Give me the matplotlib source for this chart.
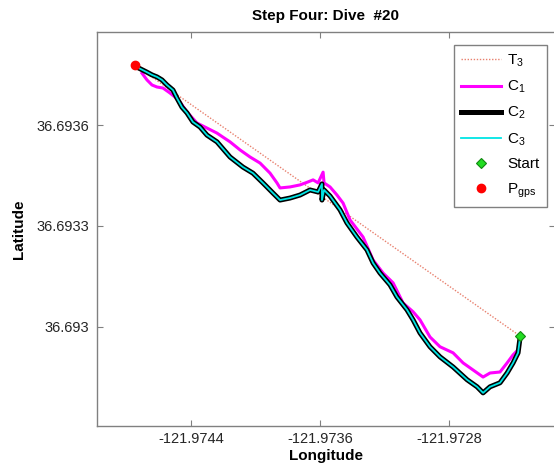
# Step Four: Dive #20 -- track comparison (T3, C1, C2, C3)

import matplotlib
matplotlib.use("Agg")
import matplotlib.pyplot as plt
from matplotlib.ticker import FixedLocator, FuncFormatter

plt.rcParams["font.family"] = ["Liberation Sans", "DejaVu Sans"]
plt.rcParams["mathtext.fontset"] = "custom"
plt.rcParams["mathtext.rm"] = "Liberation Sans"
plt.rcParams["mathtext.it"] = "Liberation Sans"

# ==========================================================
# DATA
# ==========================================================

p_gps_lon = [-121.974747]
p_gps_lat = [36.693778]

start_lon = [-121.972360]
start_lat = [36.692973]

t3_lon = [-121.974747, -121.972360]
t3_lat = [36.693778, 36.692973]

c1_lon = [-121.974704, -121.974673, -121.974642, -121.974611, -121.974574,
          -121.974530, -121.974499, -121.974468, -121.974425, -121.974363,
          -121.974301, -121.974239, -121.974202, -121.974158, -121.974096,
          -121.974034, -121.973972, -121.973910, -121.973867, -121.973848,
          -121.973786, -121.973724, -121.973674, -121.973643, -121.973612,
          -121.973581, -121.973575, -121.973538, -121.973495, -121.973457,
          -121.973414, -121.973333, -121.973271, -121.973209, -121.973147,
          -121.973085, -121.973023, -121.972980, -121.972918, -121.972856,
          -121.972775, -121.972713, -121.972651, -121.972589, -121.972546,
          -121.972484, -121.972440, -121.972403, -121.972372]
c1_lat = [36.693754, 36.693734, 36.693719, 36.693713, 36.693710,
          36.693695, 36.693683, 36.693668, 36.693639, 36.693606,
          36.693591, 36.693576, 36.693564, 36.693550, 36.693526,
          36.693505, 36.693487, 36.693457, 36.693428, 36.693413,
          36.693416, 36.693422, 36.693431, 36.693437, 36.693428,
          36.693460, 36.693428, 36.693416, 36.693392, 36.693368,
          36.693318, 36.693267, 36.693199, 36.693160, 36.693131,
          36.693071, 36.693045, 36.693021, 36.692970, 36.692941,
          36.692923, 36.692893, 36.692872, 36.692851, 36.692863,
          36.692866, 36.692893, 36.692917, 36.692932]

c2_lon = [-121.974723, -121.974673, -121.974642, -121.974611, -121.974580,
          -121.974549, -121.974512, -121.974487, -121.974456, -121.974425,
          -121.974388, -121.974344, -121.974301, -121.974239, -121.974158,
          -121.974078, -121.974016, -121.973954, -121.973892, -121.973848,
          -121.973786, -121.973724, -121.973662, -121.973612, -121.973588,
          -121.973588, -121.973575, -121.973538, -121.973476, -121.973433,
          -121.973371, -121.973309, -121.973271, -121.973228, -121.973166,
          -121.973123, -121.973061, -121.973023, -121.972980, -121.972918,
          -121.972856, -121.972775, -121.972688, -121.972626, -121.972589,
          -121.972546, -121.972484, -121.972440, -121.972403, -121.972372,
          -121.972360]
c2_lat = [36.693769, 36.693757, 36.693749, 36.693743, 36.693734,
          36.693719, 36.693704, 36.693680, 36.693653, 36.693636,
          36.693609, 36.693594, 36.693570, 36.693550, 36.693505,
          36.693475, 36.693457, 36.693428, 36.693398, 36.693377,
          36.693383, 36.693392, 36.693407, 36.693401, 36.693425,
          36.693377, 36.693407, 36.693389, 36.693348, 36.693309,
          36.693267, 36.693229, 36.693190, 36.693160, 36.693125,
          36.693089, 36.693051, 36.693021, 36.692982, 36.692941,
          36.692911, 36.692881, 36.692843, 36.692822, 36.692804,
          36.692822, 36.692834, 36.692863, 36.692893, 36.692923,
          36.692967]

# C3 lies on top of C2 at this scale
c3_lon = list(c2_lon)
c3_lat = list(c2_lat)

x_ticks = [-121.9744, -121.9736, -121.9728]
y_ticks = [36.693, 36.6933, 36.6936]

# ==========================================================
# PLOT
# ==========================================================

fig = plt.figure(figsize=(5.54, 4.71), dpi=100)
ax = fig.add_axes([0.1742, 0.0966, 0.8276, 0.8344])

ax.plot(t3_lon, t3_lat, linestyle=(0, (1, 1.2)), color="#e8806e", lw=1.0, label=r"T$_3$")
ax.plot(c1_lon, c1_lat, color="#ff00ff", lw=2.2, label=r"C$_1$")
ax.plot(c2_lon, c2_lat, color="black", lw=3.6, label=r"C$_2$")
ax.plot(c3_lon, c3_lat, color="#00e5e5", lw=1.3, label=r"C$_3$")
ax.plot(start_lon, start_lat, linestyle="none", marker="D", ms=5,
        mfc="#22dd22", mec="#118811", mew=0.8, label="Start")
ax.plot(p_gps_lon, p_gps_lat, linestyle="none", marker="o", ms=6,
        mfc="#ff0000", mec="#ff0000", label=r"P$_{\mathrm{gps}}$")

ax.set_xlim(-121.974986, -121.972143)
ax.set_ylim(36.692707, 36.693875)

ax.xaxis.set_major_locator(FixedLocator(x_ticks))
ax.yaxis.set_major_locator(FixedLocator(y_ticks))
fmt = FuncFormatter(lambda v, p: "{:.7g}".format(round(v, 4)))
ax.xaxis.set_major_formatter(fmt)
ax.yaxis.set_major_formatter(fmt)

ax.tick_params(direction="in", top=True, right=True, length=4,
               color="#808080", labelsize=10.5, labelcolor="#262626", pad=5)
for s in ax.spines.values():
    s.set_color("#808080")
    s.set_linewidth(1.0)

ax.set_title("Step Four: Dive  #20", fontsize=11, fontweight="bold", pad=9)
ax.set_xlabel("Longitude", fontsize=11, fontweight="bold", labelpad=2)
ax.set_ylabel("Latitude", fontsize=11, fontweight="bold", labelpad=8)

leg = ax.legend(loc="upper right", bbox_to_anchor=(0.9826, 0.968),
                borderaxespad=0, fancybox=False, framealpha=1,
                edgecolor="#808080", fontsize=11, handlelength=2.6,
                labelspacing=0.64, handletextpad=0.4, borderpad=0.5)
leg.get_frame().set_linewidth(1.0)

fig.savefig("out.png", dpi=100)
